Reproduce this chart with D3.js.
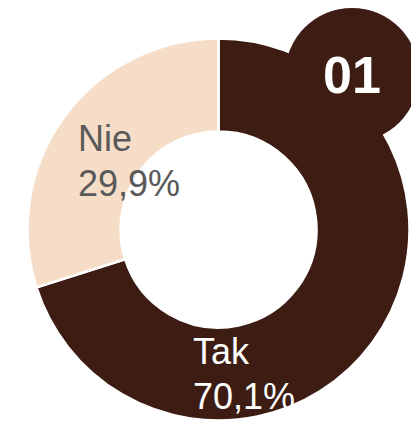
<!DOCTYPE html>
<html>
<head>
<meta charset="utf-8">
<script src="https://cdn.jsdelivr.net/npm/d3@7"></script>
<style>
  html, body { margin: 0; padding: 0; background: #fff; overflow: hidden; }
  text { font-family: "Liberation Sans", Arial, sans-serif; }
</style>
</head>
<body>
<script>
// data
var categories = ["Tak", "Nie"];
var values = [70.1, 29.9];
var valueLabels = ["70,1%", "29,9%"];
var colors = ["#3d1d13", "#f6ddc8"];
var badgeText = "01";

var width = 411;
var height = 421;
var cx = 218.5, cy = 229.5;
var outerR = 191, innerR = 98;

var svg = d3.select("body").append("svg")
    .attr("width", width)
    .attr("height", height);

var pie = d3.pie()
    .sort(null)
    .value(function (d) { return d; });

var arc = d3.arc().innerRadius(innerR).outerRadius(outerR);

var g = svg.append("g").attr("transform", "translate(" + cx + "," + cy + ")");

var arcs = pie(values);

g.selectAll("path.slice")
    .data(arcs)
    .enter().append("path")
    .attr("class", "slice")
    .attr("d", arc)
    .attr("fill", function (d, i) { return colors[i]; })
    .attr("stroke", "#fff")
    .attr("stroke-width", 2.5);

// label offsets (left edge, first baseline) relative to centre, as laid out in the original
var labelPos = [[-25.5, 134, "#ffffff"], [-140.5, -79, "#595959"]];

var labels = g.selectAll("text.lbl")
    .data(arcs)
    .enter().append("text")
    .attr("class", "lbl")
    .attr("x", function (d, i) { return labelPos[i][0]; })
    .attr("y", function (d, i) { return labelPos[i][1]; })
    .attr("fill", function (d, i) { return labelPos[i][2]; })
    .style("font-size", "36px");

labels.append("tspan")
    .attr("x", function (d, i) { return labelPos[i][0]; })
    .text(function (d, i) { return categories[i]; });
labels.append("tspan")
    .attr("x", function (d, i) { return labelPos[i][0]; })
    .attr("dy", 45)
    .text(function (d, i) { return valueLabels[i]; });

// number badge
var badge = svg.append("g").attr("transform", "translate(352,75)");
badge.append("circle").attr("r", 67).attr("fill", colors[0]);
badge.append("text")
    .attr("text-anchor", "middle")
    .attr("y", 18)
    .attr("fill", "#fff")
    .style("font-size", "52px")
    .style("font-weight", "bold")
    .text(badgeText);
</script>
</body>
</html>
